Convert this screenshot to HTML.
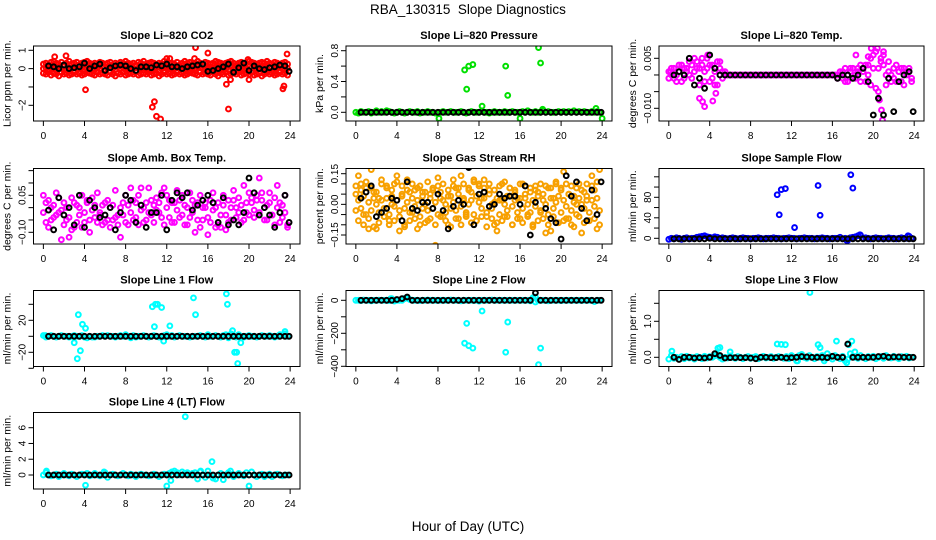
<!DOCTYPE html>
<html><head><meta charset="utf-8"><style>
html,body{margin:0;padding:0;background:#fff;}
svg{display:block;font-family:"Liberation Sans",sans-serif;}
</style></head><body>
<svg id="chart" width="936" height="540" viewBox="0 0 936 540" xmlns="http://www.w3.org/2000/svg">
<rect width="936" height="540" fill="#fff"/>
<text x="468" y="14" text-anchor="middle" font-size="13.5">RBA_130315&#160; Slope Diagnostics</text>
<text x="468" y="531" text-anchor="middle" font-size="13.5">Hour of Day (UTC)</text>
</svg>
<script>
// shared time axes
const blackHours=[0.5,1.0,1.5,2.0,2.5,3.0,3.5,4.0,4.5,5.0,5.5,6.0,6.5,7.0,7.5,8.0,8.5,9.0,9.5,10.0,10.5,11.0,11.5,12.0,12.5,13.0,13.5,14.0,14.5,15.0,15.5,16.0,16.5,17.0,17.5,18.0,18.5,19.0,19.5,20.0,20.5,21.0,21.5,22.0,22.5,23.0,23.5,23.9];
const colorHours=[0.0,0.25,0.5,0.75,1.0,1.25,1.5,1.75,2.0,2.25,2.5,2.75,3.0,3.25,3.5,3.75,4.0,4.25,4.5,4.75,5.0,5.25,5.5,5.75,6.0,6.25,6.5,6.75,7.0,7.25,7.5,7.75,8.0,8.25,8.5,8.75,9.0,9.25,9.5,9.75,10.0,10.25,10.5,10.75,11.0,11.25,11.5,11.75,12.0,12.25,12.5,12.75,13.0,13.25,13.5,13.75,14.0,14.25,14.5,14.75,15.0,15.25,15.5,15.75,16.0,16.25,16.5,16.75,17.0,17.25,17.5,17.75,18.0,18.25,18.5,18.75,19.0,19.25,19.5,19.75,20.0,20.25,20.5,20.75,21.0,21.25,21.5,21.75,22.0,22.25,22.5,22.75,23.0,23.25,23.5,23.75];
const xTicks=[0,4,8,12,16,20,24];

// CO2
const co2Black=[0.15,0.1,0.0,0.2,0.0,0.05,0.1,0.3,0.0,0.15,0.25,-0.1,0.05,0.15,0.2,0.15,0.0,-0.1,0.1,0.1,0.05,0.2,0.15,0.25,0.1,0.1,0.0,0.1,0.15,0.2,0.25,-0.15,-0.1,0.0,0.1,0.25,-0.2,0.05,0.3,-0.1,0.15,0.0,-0.05,0.05,0.1,0.2,0.15,-0.15];
const co2RedA=[0.25,0.3,0.2,0.35,0.4,0.3,0.25,0.35,0.2,0.3,0.4,0.25,0.3,0.35,0.2,0.3,0.35,0.4,0.3,0.25,0.3,0.2,0.35,0.3,0.25,0.3,0.35,0.2,0.3,0.25,0.35,0.3,0.4,0.3,0.25,0.3,0.2,0.35,0.3,0.4,0.25,0.3,0.35,0.3,0.2,0.3,0.25,0.4,0.35,0.3,0.3,0.25,0.35,0.2,0.3,0.4,0.3,0.35,0.25,0.3,0.4,0.3,0.2,0.35,0.3,0.25,0.3,0.4,0.35,0.3,0.25,0.3,0.35,0.4,0.3,0.2,0.3,0.35,0.25,0.3,0.4,0.35,0.3,0.25,0.3,0.35,0.3,0.4,0.3,0.25,0.35,0.3,0.2,0.3,0.35,0.25];
const co2RedB=[0.0,0.05,-0.05,0.1,0.0,-0.1,0.05,0.0,0.1,-0.05,0.0,0.05,-0.1,0.0,0.1,0.05,-0.05,0.0,0.1,0.0,-0.05,0.05,0.0,0.1,-0.1,0.0,0.05,0.0,-0.05,0.1,0.0,0.05,-0.05,0.0,0.1,0.0,-0.1,0.05,0.0,0.05,0.0,-0.05,0.1,0.0,0.05,-0.1,0.0,0.05,0.1,0.0,-0.05,0.0,0.05,0.1,0.0,-0.05,0.0,0.05,-0.1,0.0,0.1,0.05,0.0,-0.05,0.0,0.1,0.0,0.05,-0.1,0.0,0.05,0.0,-0.05,0.1,0.0,0.05,-0.05,0.0,0.1,0.0,-0.1,0.05,0.0,0.05,0.0,-0.05,0.1,0.0,0.05,-0.1,0.0,0.05,0.1,0.0,-0.05,0.0];
const co2RedC=[-0.25,-0.3,-0.2,-0.35,-0.25,-0.3,-0.4,-0.2,-0.3,-0.25,-0.35,-0.3,-0.2,-0.3,-0.25,-0.35,-0.3,-0.2,-0.25,-0.3,-0.35,-0.2,-0.3,-0.25,-0.3,-0.35,-0.2,-0.3,-0.4,-0.25,-0.3,-0.2,-0.35,-0.3,-0.25,-0.3,-0.2,-0.35,-0.3,-0.25,-0.3,-0.2,-0.35,-0.3,-0.25,-0.4,-0.3,-0.2,-0.3,-0.25,-0.35,-0.3,-0.2,-0.3,-0.25,-0.35,-0.3,-0.2,-0.25,-0.3,-0.35,-0.2,-0.3,-0.25,-0.3,-0.35,-0.2,-0.3,-0.4,-0.25,-0.3,-0.2,-0.35,-0.3,-0.25,-0.3,-0.2,-0.35,-0.3,-0.25,-0.3,-0.2,-0.35,-0.3,-0.25,-0.4,-0.3,-0.2,-0.3,-0.25,-0.35,-0.3,-0.2,-0.3,-0.25,-0.35];
const co2OutX=[1.1,2.2,4.1,10.6,10.8,11.0,11.4,12.0,12.3,14.7,14.8,16.0,17.8,18.0,18.2,19.9,20.0,23.3,23.4,23.7];
const co2OutY=[0.65,0.7,-1.15,-2.1,-1.8,-2.6,-2.75,0.55,0.55,0.55,1.15,0.85,-0.85,-2.2,-0.6,0.5,-0.6,-1.1,-0.95,0.8];

// Pressure
const presBase=[0.0,-0.01,0.01,0.0,0.0,0.01,-0.01,0.0,0.02,0.0,0.01,0.0,0.02,0.01,0.0,-0.01,0.0,0.01,0.0,-0.01,0.0,0.01,0.0,0.0,0.01,-0.01,0.0,0.0,0.01,0.0,0.0,-0.01,-0.01,0.0,0.01,0.0,0.0,0.01,0.0,0.0,0.0,0.01,0.0,-0.01,0.0,0.01,0.0,0.0,0.0,0.01,0.0,0.0,-0.01,0.0,0.01,0.0,0.0,0.0,0.01,0.0,0.0,0.01,0.0,0.0,0.0,0.01,0.0,0.02,0.0,0.0,0.01,0.0,0.0,0.02,0.0,0.01,0.0,0.0,0.0,0.01,0.0,0.01,0.0,0.01,0.0,0.02,0.0,0.01,0.0,0.01,0.0,0.0,0.01,0.0,0.01,0.0];
const presBlack=[0,0,0,0,0,0,0,0,0,0,0,0,0,0,0,0,0,0,0,0,0,0,0,0,0,0,0,0,0,0,0,0,0,0,0,0,0,0,0,0,0,0,0,0,0,0,0,0];
const presOutX=[10.6,10.8,11.0,11.4,12.3,14.6,14.8,17.8,18.0,18.2,23.4,8.1,16.0,24.0,3.0];
const presOutY=[0.55,0.3,0.6,0.62,0.08,0.6,0.22,0.84,0.64,0.04,0.05,-0.08,-0.08,-0.08,0.02];

// Li-820 temp
const tempBlack=[0.0,0.001,0.0,0.005,-0.003,-0.001,-0.004,0.006,0.002,0.0,0.0,0.0,0.0,0.0,0.0,0.0,0.0,0.0,0.0,0.0,0.0,0.0,0.0,0.0,0.0,0.0,0.0,0.0,0.0,0.0,0.0,0.0,-0.001,0.0,0.0,-0.001,0.0,0.002,-0.002,-0.012,-0.007,-0.012,-0.001,-0.011,-0.002,0.0,0.001,-0.011];
const tempMag=[0.001,0.002,-0.001,0.0,0.003,-0.002,0.002,0.001,0.004,-0.001,0.005,0.002,-0.003,0.003,0.001,0.005,-0.002,0.003,-0.003,0.004,0.002,-0.001,0.001,0.0,0.0,0.0,0.0,0.0,0.0,0.0,0.0,0.0,0.0,0.0,0.0,0.0,0.0,0.0,0.0,0.0,0.0,0.0,0.0,0.0,0.0,0.0,0.0,0.0,0.0,0.0,0.0,0.0,0.0,0.0,0.0,0.0,0.0,0.0,0.0,0.0,0.0,0.0,0.0,0.0,0.0,0.0,0.0,0.001,-0.001,0.002,-0.002,0.001,0.002,-0.001,0.001,0.003,0.002,-0.002,0.003,0.005,0.006,-0.004,0.002,0.004,0.006,-0.003,0.001,0.0,0.002,-0.002,0.001,0.002,-0.003,0.001,0.002,-0.001];
const tempMagB=[-0.001,0.0,0.002,-0.002,0.001,0.003,-0.001,0.002,0.0,0.003,0.001,0.004,0.002,0.005,-0.002,0.002,0.003,-0.001,0.001,-0.003,0.004,0.001,0.0,0.0,0.0,0.0,0.0,0.0,0.0,0.0,0.0,0.0,0.0,0.0,0.0,0.0,0.0,0.0,0.0,0.0,0.0,0.0,0.0,0.0,0.0,0.0,0.0,0.0,0.0,0.0,0.0,0.0,0.0,0.0,0.0,0.0,0.0,0.0,0.0,0.0,0.0,0.0,0.0,0.0,0.0,0.0,-0.001,0.0,0.001,-0.002,0.0,0.002,-0.001,0.0,0.002,-0.002,0.001,0.003,0.0,-0.003,0.002,0.007,-0.005,0.005,0.003,0.0,0.004,-0.002,-0.001,0.003,0.001,-0.002,0.002,0.0,0.001,-0.002];
const tempOutX=[3.0,3.3,3.5,4.3,4.6,18.3,19.5,19.8,20.4,20.6,20.8,20.9,21.0,0.2,3.8];
const tempOutY=[-0.007,-0.008,-0.0095,-0.0078,-0.0055,0.006,0.0055,0.008,0.008,-0.0075,-0.0105,-0.0135,0.007,0.001,0.006];

// Amb box temp
const ambBlack=[-0.01,-0.09,0.04,-0.03,0.0,-0.07,0.05,-0.08,0.03,0.0,-0.04,-0.03,0.0,-0.09,-0.02,0.05,0.03,-0.06,0.01,-0.08,-0.02,-0.02,0.05,-0.09,0.03,0.06,0.04,0.06,-0.01,0.01,0.03,0.05,0.02,-0.06,0.04,-0.07,-0.05,-0.07,-0.02,0.12,0.06,-0.03,0.0,-0.03,-0.08,-0.02,0.05,-0.06];
const ambMagA=[0.05,-0.06,0.03,0.0,-0.04,0.06,-0.02,-0.13,0.02,-0.05,-0.12,0.04,-0.08,0.01,-0.03,0.05,-0.06,0.02,-0.1,0.04,-0.04,0.06,-0.02,0.01,-0.06,0.03,0.0,-0.05,0.07,-0.03,-0.12,0.02,0.05,-0.07,0.08,0.03,-0.04,0.05,0.08,-0.06,0.02,0.08,-0.03,0.01,0.04,-0.02,0.06,0.08,0.05,0.03,-0.06,0.02,0.07,-0.04,0.05,0.01,-0.07,0.06,0.03,-0.1,0.02,0.05,-0.05,0.0,-0.11,0.03,0.06,-0.08,0.02,-0.03,0.05,-0.09,0.03,-0.05,0.07,0.0,0.04,-0.06,0.09,-0.02,0.06,0.02,-0.04,0.05,0.12,0.03,-0.05,0.01,0.06,-0.03,-0.07,0.09,0.02,-0.04,0.05,-0.08];
const ambMagB=[-0.02,0.02,-0.08,-0.05,0.01,-0.03,0.04,-0.01,-0.07,0.0,-0.04,-0.09,0.02,-0.06,0.0,-0.08,-0.02,0.03,-0.05,-0.01,0.01,-0.06,-0.03,-0.07,0.02,-0.05,-0.08,0.01,-0.04,-0.07,0.0,-0.03,-0.06,0.01,-0.02,-0.05,0.02,-0.07,-0.01,0.0,-0.05,-0.02,0.03,-0.06,-0.01,0.02,-0.04,-0.07,0.0,-0.04,0.02,-0.06,-0.01,0.03,-0.03,-0.07,0.0,-0.04,-0.02,0.01,-0.05,-0.08,0.0,0.02,-0.04,-0.06,-0.01,0.0,-0.07,-0.08,0.01,-0.03,-0.06,0.0,0.03,-0.04,-0.02,0.01,-0.05,0.02,-0.03,0.04,-0.01,0.03,-0.02,0.06,0.0,-0.05,0.02,-0.03,0.04,0.0,-0.06,0.01,-0.02,-0.07];

// Gas stream RH
const rhBlack=[0.03,0.06,0.09,-0.06,-0.04,-0.02,0.03,0.02,-0.08,0.11,-0.02,-0.03,0.01,0.01,-0.02,0.05,-0.03,-0.12,-0.01,0.02,0.0,0.18,-0.1,0.05,0.06,-0.01,0.0,0.05,0.03,0.04,0.04,0.0,0.09,-0.15,0.01,0.2,-0.02,-0.07,-0.09,-0.17,0.14,0.04,0.11,-0.02,-0.08,0.07,-0.05,0.11];
const rhOrA=[0.05,0.14,0.1,-0.05,0.08,-0.12,0.17,0.06,-0.12,0.03,0.12,-0.06,0.08,-0.08,0.0,0.1,0.14,-0.13,0.04,-0.1,0.12,0.06,-0.04,0.07,-0.12,0.09,-0.02,0.06,-0.08,0.03,0.07,-0.1,0.13,0.06,-0.06,0.0,-0.1,0.04,0.12,0.08,-0.07,0.14,0.02,-0.05,0.08,0.06,0.12,-0.08,0.1,0.03,0.12,-0.06,0.07,0.0,-0.1,-0.13,0.02,0.1,-0.06,0.04,0.08,-0.1,0.06,0.03,-0.07,0.1,0.03,-0.05,0.06,-0.1,0.09,0.06,-0.04,0.05,-0.14,0.08,-0.13,0.03,0.1,-0.09,0.08,0.16,-0.07,0.05,-0.1,0.04,0.0,0.1,-0.14,0.06,0.02,-0.08,0.14,0.07,-0.12,0.17];
const rhOrB=[-0.03,0.02,-0.02,0.04,-0.05,0.01,-0.03,0.03,0.0,-0.04,0.02,-0.02,0.03,-0.05,0.04,-0.01,0.02,-0.03,0.05,-0.02,0.01,-0.04,0.03,-0.01,0.02,-0.06,0.04,0.0,-0.03,0.05,-0.02,0.01,-0.05,0.03,0.02,-0.04,0.04,-0.02,0.01,-0.03,0.05,-0.01,0.03,-0.04,0.0,0.02,-0.05,0.04,0.01,-0.02,0.03,-0.04,0.05,-0.02,0.01,0.03,-0.05,0.02,0.0,-0.03,0.04,-0.01,0.02,-0.04,0.03,-0.02,0.05,0.0,-0.04,0.02,-0.01,0.04,-0.03,0.02,0.0,-0.05,0.03,-0.02,0.01,0.04,-0.04,0.02,-0.01,0.05,-0.03,0.01,-0.05,0.03,0.0,-0.02,0.04,-0.04,0.02,-0.01,0.03,-0.03];
const rhOrC=[0.09,-0.08,0.07,-0.1,0.11,-0.07,0.08,-0.11,0.06,-0.09,0.1,-0.06,0.09,-0.1,0.07,-0.08,0.11,-0.06,0.09,-0.11,0.07,-0.08,0.1,-0.07,0.08,-0.1,0.06,-0.09,0.11,-0.07,0.08,-0.2,0.09,-0.06,0.1,-0.08,0.07,-0.11,0.09,-0.07,0.08,-0.1,0.1,-0.06,0.07,-0.09,0.11,-0.08,0.09,-0.06,0.08,-0.11,0.1,-0.07,0.07,-0.09,0.09,-0.08,0.11,-0.06,0.08,-0.1,0.07,-0.07,0.1,-0.09,0.09,-0.06,0.08,-0.11,0.07,-0.08,0.1,-0.07,0.09,-0.1,0.08,-0.06,0.11,-0.09,0.07,-0.08,0.1,-0.07,0.09,-0.11,0.08,-0.06,0.07,-0.09,0.1,-0.08,0.09,-0.07,0.11,-0.1];

// Sample flow
const sfBase=[-2,0,-1,1,0,-2,0,1,-1,0,0,2,3,4,5,3,2,1,3,2,0,1,0,-1,0,1,0,-1,0,1,0,0,-1,0,0,1,0,-1,0,0,0,1,0,0,-1,0,0,1,0,0,-1,0,0,1,0,0,0,-1,0,0,1,0,0,-1,0,0,0,2,-1,0,-4,1,2,3,5,6,0,1,0,-1,0,1,0,0,-1,0,1,0,0,-1,0,1,0,0,4,0];
const sfBlack=[-1,-1,-1,-1,-1,-1,-1,0,-1,-1,-1,-1,-1,-1,-1,-1,-1,-1,-1,-1,-1,-1,-1,-1,-1,-1,-1,-1,-1,-1,-1,-1,-1,-1,-1,-1,-1,-1,-1,-1,-1,-1,-1,-1,-1,-1,-1,-1];
const sfOutX=[10.6,10.8,11.0,11.4,12.3,14.6,14.8,17.8,18.0,18.7,23.4,17.4];
const sfOutY=[85,46,95,97,21,103,45,124,98,7,5,-4];

// Line flows
const zeros48=[0,0,0,0,0,0,0,0,0,0,0,0,0,0,0,0,0,0,0,0,0,0,0,0,0,0,0,0,0,0,0,0,0,0,0,0,0,0,0,0,0,0,0,0,0,0,0,0];
const l1Base=[1,-1,0,1,0,-1,0,1,0,0,-1,0,1,0,0,1,-1,-2,0,-1,-1,0,0,1,0,1,0,0,-1,0,1,0,2,0,-2,1,-1,0,0,1,0,-1,0,1,0,-1,0,1,2,0,1,-1,0,1,0,0,0,-1,0,0,0,1,0,-1,2,0,0,1,0,-1,1,2,-2,3,0,-1,2,0,-1,0,1,0,0,-1,0,1,0,0,1,0,-1,0,2,1,3,0];
const l1OutX=[3.0,3.3,3.4,3.6,3.8,4.1,10.6,10.9,11.1,11.5,10.8,11.7,12.3,14.6,14.8,17.8,17.9,18.4,18.6,18.8,18.9,19.2,23.5,0.2];
const l1OutY=[-8,-28,27,-18,15,10,37,40,40,36,12,-6,13,48,27,53,40,7,-20,-20,-34,-8,6,1];
const l2Base=[0,0,-2,2,0,0,-3,0,0,1,0,0,0,-2,10,-5,0,0,0,10,15,5,0,0,0,-2,0,0,2,0,0,0,-1,0,0,0,0,2,0,0,0,-3,0,0,0,0,-1,0,-5,0,0,0,0,2,0,0,0,0,0,0,0,0,0,0,0,0,0,0,-3,15,-10,0,0,0,0,-3,0,0,0,0,-2,0,0,0,0,0,0,0,-1,0,0,0,0,-8,0,0];
const l2Black=[0,0,0,0,0,0,0,5,10,20,0,0,0,0,0,0,0,0,0,0,0,0,0,0,0,0,0,0,0,0,0,0,0,0,45,0,0,0,0,0,0,0,0,0,0,0,0,0];
const l2OutX=[3.4,4.8,10.6,10.8,11.0,11.4,12.3,14.6,14.8,17.8,18.0,17.5];
const l2OutY=[10,12,-260,-140,-275,-290,-65,-315,-132,-390,-290,20];
const l3Base=[-0.05,0.05,-0.03,0.0,-0.05,0.02,-0.04,0.03,-0.02,0.0,-0.05,0.02,0.0,-0.04,0.03,-0.02,0.02,0.0,0.04,0.08,0.0,-0.05,0.0,-0.02,0.04,0.0,-0.03,0.02,0.0,-0.04,0.0,0.02,-0.03,0.0,0.02,-0.04,0.0,0.03,-0.02,0.0,0.02,-0.03,0.0,0.02,0.0,-0.03,0.02,-0.04,0.05,0.0,-0.1,0.05,0.08,0.0,-0.03,0.05,0.0,-0.04,0.02,0.0,0.05,-0.03,0.1,0.0,-0.05,0.05,0.0,-0.04,0.03,-0.1,-0.05,0.1,0.03,0.0,-0.03,0.05,0.0,-0.04,0.02,0.0,0.03,-0.04,0.0,0.02,-0.03,0.05,0.0,-0.02,0.03,0.0,-0.04,0.02,0.0,0.03,-0.02,0.0];
const l3Black=[0.0,-0.06,0.0,0.0,-0.02,-0.01,-0.02,0.0,0.1,0.05,-0.02,-0.01,-0.01,-0.01,-0.01,-0.02,-0.04,0.0,0.0,-0.01,-0.01,0.0,-0.02,-0.01,0.0,0.02,0.01,0.0,0.0,0.0,-0.01,0.03,0.0,0.0,0.37,0.0,0.0,0.0,0.0,0.0,0.02,0.03,0.0,0.01,0.01,0.0,0.0,0.0];
const l3OutX=[0.3,4.8,5.0,6.0,10.6,11.0,11.4,13.8,14.6,14.8,16.4,17.6,17.9,18.2,15.2,12.6,17.4];
const l3OutY=[0.17,0.25,0.27,0.15,0.37,0.36,0.35,1.8,0.35,0.27,0.45,0.35,0.45,0.15,-0.1,-0.1,-0.15];
const l4Base=[0.0,0.3,0.0,-0.1,0.0,0.1,-0.2,0.0,0.2,0.0,-0.1,0.1,0.0,-0.2,0.0,0.1,0.0,0.2,-0.1,0.0,0.2,0.0,-0.1,0.0,0.3,-0.3,0.0,0.1,0.0,-0.1,0.0,0.2,0.0,-0.1,0.1,0.0,-0.2,0.0,0.1,0.0,0.0,-0.1,0.0,0.1,0.0,-0.2,0.0,0.1,0.0,0.2,0.4,0.5,0.3,0.0,0.4,0.2,0.3,0.0,0.2,0.3,-0.5,0.4,0.0,-0.3,0.5,0.0,-0.4,-0.5,0.0,0.2,-0.6,0.0,0.3,0.0,-0.2,0.0,0.2,0.0,-0.1,0.3,0.0,0.4,0.0,-0.2,0.0,0.1,-0.2,0.0,0.1,-0.2,0.0,0.1,0.0,-0.1,0.0,0.0];
const l4OutX=[0.3,4.1,12.0,12.4,13.8,16.4,20.0,18.2,5.9,15.3];
const l4OutY=[0.5,-1.3,-1.4,-0.7,7.4,1.7,-1.4,0.5,0.4,0.5];

const SVGNS="http://www.w3.org/2000/svg";
const svg=document.getElementById('chart');
function mk(tag,attrs,parent){const e=document.createElementNS(SVGNS,tag);for(const k in attrs)e.setAttribute(k,attrs[k]);(parent||svg).appendChild(e);return e;}

const cols=[[33.5,300],[346,612],[659,924]];
const rows=[[46,121],[168.5,244],[290.5,366.5],[412.5,489]];

function panel(p){
  const [L,R]=cols[p.col],[T,B]=rows[p.row];
  const g=mk('g',{});
  
  
  const xs=h=>L+(h+0.96)/25.92*(R-L);
  const ys=v=>p.p1+(v-p.v1)*(p.p2-p.p1)/(p.v2-p.v1);
  const t=mk('text',{x:(L+R)/2,y:T-7,'text-anchor':'middle','font-size':'11','font-weight':'bold'},g);
  
  
  t.textContent=p.title;
  const xa=mk('g',{},g);
  
  
  mk('line',{x1:xs(0),x2:xs(24),y1:B,y2:B,stroke:'#000'},xa);
  xTicks.forEach(v=>{
    mk('line',{x1:xs(v),x2:xs(v),y1:B,y2:B+5,stroke:'#000'},xa);
    const l=mk('text',{x:xs(v),y:B+18,'text-anchor':'middle','font-size':'10'},xa);
    
    
    l.textContent=v;
  });
  const ya=mk('g',{},g);
  
  
  mk('line',{x1:L,x2:L,y1:ys(p.yt[0]),y2:ys(p.yt[p.yt.length-1]),stroke:'#000'},ya);
  p.yt.forEach((v,i)=>{
    const y=ys(v);
    mk('line',{x1:L-5,x2:L,y1:y,y2:y,stroke:'#000'},ya);
    if(p.yl[i]!==''){
      const l=mk('text',{x:0,y:0,'text-anchor':'middle','font-size':'10',transform:`translate(${L-8},${y}) rotate(-90)`},ya);
      
      
      l.textContent=p.yl[i];
    }
  });
  const yt=mk('text',{x:0,y:0,'text-anchor':'middle','font-size':'10.5',transform:`translate(${L-23},${(T+B)/2}) rotate(-90)`},g);
  
  
  yt.textContent=p.ylab;
  const clip='clip-'+p.name;
  const cp=mk('clipPath',{id:clip},g);mk('rect',{x:L,y:T,width:R-L,height:B-T},cp);
  const pg=mk('g',{'clip-path':`url(#${clip})`},g);
  
  
  p.series.forEach(s=>{
    s.y.forEach((v,i)=>{
      const c=mk('circle',{cx:xs(s.x[i]),cy:ys(v),r:2.4,fill:'none',stroke:s.color,'stroke-width':2},pg);
      
      
    });
  });
  const box=mk('rect',{x:L,y:T,width:R-L,height:B-T,fill:'none',stroke:'#000'},g);
  
  
}

panel({name:'li820-co2',title:'Slope Li\u2013820 CO2',ylab:'Licor ppm per min.',col:0,row:0,v1:1,p1:50.3,v2:-2,p2:105.3,
 yt:[-2,-1,0,1],yl:['\u22122','','0','1'],
 series:[{x:colorHours,y:co2RedA,color:'#f00'},{x:colorHours,y:co2RedB,color:'#f00'},{x:colorHours,y:co2RedC,color:'#f00'},{x:co2OutX,y:co2OutY,color:'#f00'},{x:blackHours,y:co2Black,color:'#000'}]});
panel({name:'li820-pressure',title:'Slope Li\u2013820 Pressure',ylab:'kPa per min.',col:1,row:0,v1:0.8,p1:50.7,v2:0,p2:112.3,
 yt:[0,0.2,0.4,0.6,0.8],yl:['0.0','','0.4','','0.8'],
 series:[{x:colorHours,y:presBase,color:'#00e000'},{x:presOutX,y:presOutY,color:'#00e000'},{x:blackHours,y:presBlack,color:'#000'}]});
panel({name:'li820-temp',title:'Slope Li\u2013820 Temp.',ylab:'degrees C per min.',col:2,row:0,v1:0.005,p1:58.3,v2:-0.010,p2:108.3,
 yt:[-0.010,-0.005,0,0.005],yl:['\u22120.010','','','0.005'],
 series:[{x:colorHours,y:tempMag,color:'#f0f'},{x:colorHours,y:tempMagB,color:'#f0f'},{x:tempOutX,y:tempOutY,color:'#f0f'},{x:blackHours,y:tempBlack,color:'#000'}]});
panel({name:'amb-box-temp',title:'Slope Amb. Box Temp.',ylab:'degrees C per min.',col:0,row:1,v1:0.05,p1:195.3,v2:-0.10,p2:232.3,
 yt:[-0.10,-0.05,0,0.05,0.10,0.15],yl:['\u22120.10','','','0.05','',''],
 series:[{x:colorHours,y:ambMagA,color:'#f0f'},{x:colorHours,y:ambMagB,color:'#f0f'},{x:blackHours,y:ambBlack,color:'#000'}]});
panel({name:'gas-stream-rh',title:'Slope Gas Stream RH',ylab:'percent per min.',col:1,row:1,v1:0.15,p1:173.7,v2:-0.15,p2:235,
 yt:[-0.15,-0.10,-0.05,0,0.05,0.10,0.15],yl:['\u22120.15','','','0.00','','','0.15'],
 series:[{x:colorHours,y:rhOrA,color:'#f7a000'},{x:colorHours,y:rhOrB,color:'#f7a000'},{x:colorHours,y:rhOrC,color:'#f7a000'},{x:blackHours,y:rhBlack,color:'#000'}]});
panel({name:'sample-flow',title:'Slope Sample Flow',ylab:'ml/min per min.',col:2,row:1,v1:0,p1:238.3,v2:80,p2:197.3,
 yt:[0,20,40,60,80,100,120],yl:['0','','40','','80','',''],
 series:[{x:colorHours,y:sfBase,color:'#00f'},{x:sfOutX,y:sfOutY,color:'#00f'},{x:blackHours,y:sfBlack,color:'#000'}]});
panel({name:'line1-flow',title:'Slope Line 1 Flow',ylab:'ml/min per min.',col:0,row:2,v1:20,p1:320.3,v2:-20,p2:352.3,
 yt:[-40,-20,0,20,40],yl:['','\u221220','','20',''],
 series:[{x:colorHours,y:l1Base,color:'#0ff'},{x:l1OutX,y:l1OutY,color:'#0ff'},{x:blackHours,y:zeros48,color:'#000'}]});
panel({name:'line2-flow',title:'Slope Line 2 Flow',ylab:'ml/min per min.',col:1,row:2,v1:0,p1:300.3,v2:-400,p2:366.3,
 yt:[-400,-300,-200,-100,0],yl:['\u2212400','','\u2212200','','0'],
 series:[{x:colorHours,y:l2Base,color:'#0ff'},{x:l2OutX,y:l2OutY,color:'#0ff'},{x:blackHours,y:l2Black,color:'#000'}]});
panel({name:'line3-flow',title:'Slope Line 3 Flow',ylab:'ml/min per min.',col:2,row:2,v1:1.0,p1:321.3,v2:0,p2:357.3,
 yt:[0,0.5,1.0,1.5],yl:['0.0','','1.0',''],
 series:[{x:colorHours,y:l3Base,color:'#0ff'},{x:l3OutX,y:l3OutY,color:'#0ff'},{x:blackHours,y:l3Black,color:'#000'}]});
panel({name:'line4-flow',title:'Slope Line 4 (LT) Flow',ylab:'ml/min per min.',col:0,row:3,v1:6,p1:427.7,v2:0,p2:475,
 yt:[0,2,4,6],yl:['0','2','4','6'],
 series:[{x:colorHours,y:l4Base,color:'#0ff'},{x:l4OutX,y:l4OutY,color:'#0ff'},{x:blackHours,y:zeros48,color:'#000'}]});
</script>
</body></html>
